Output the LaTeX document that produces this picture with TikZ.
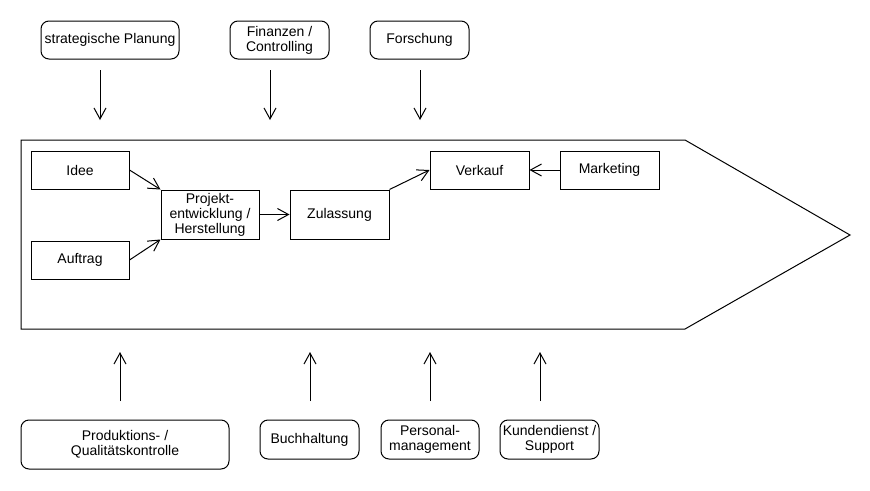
\documentclass[tikz,border=0pt]{standalone}
\usepackage{fontspec}
\setmainfont{Liberation Sans}
\usetikzlibrary{arrows.meta}
\begin{document}
\begin{tikzpicture}[x=1pt,y=-1pt,
  every node/.style={font=\fontsize{14}{15}\selectfont, align=center, inner sep=0pt},
  rbox/.style={draw, line width=1pt, rounded corners=8pt},
  sbox/.style={draw, line width=1pt},
  conn/.style={line width=1pt, -{Straight Barb[length=11pt,width=12pt,line width=1pt]}}
]
\useasboundingbox (0,0) rectangle (870,490);
% big pentagon
\draw[line width=1pt] (21,140) -- (685,140) -- (850,235) -- (685,329) -- (21,329) -- cycle;

% top boxes
\node[rbox, minimum width=138pt, minimum height=38pt] (sp) at (110,40) {strategische Planung};
\node[rbox, minimum width=99pt, minimum height=38pt] (fin) at (279.5,40) {Finanzen /\\Controlling};
\node[rbox, minimum width=99pt, minimum height=38pt] (for) at (419.5,40) {Forschung};

\coordinate (a1s) at (100,70);  \coordinate (a1e) at (100,120);
\coordinate (a2s) at (270,70);  \coordinate (a2e) at (270,120);
\coordinate (a3s) at (420,70);  \coordinate (a3e) at (420,120);
\draw[conn] (a1s) -- (a1e);
\draw[conn] (a2s) -- (a2e);
\draw[conn] (a3s) -- (a3e);

% inner boxes
\node[sbox, minimum width=98pt, minimum height=38pt] (idee) at (80,170) {Idee};
\node[sbox, minimum width=98pt, minimum height=38pt] (auf) at (80,260) {Auftrag};
\node[sbox, minimum width=98pt, minimum height=49pt] (proj) at (210,214.5) {Projekt-\\entwicklung /\\Herstellung};
\node[sbox, minimum width=99pt, minimum height=49pt] (zul) at (339.5,214.5) {Zulassung};
\node[sbox, minimum width=99pt, minimum height=38pt] (verk) at (479.5,170) {Verkauf};
\node[sbox, minimum width=99pt, minimum height=38pt] (mark) at (609.5,170) {Marketing};

\draw[conn] (idee.east) -- (proj.north west);
\draw[conn] (auf.east) -- (proj.south west);
\draw[conn] (proj.east) -- (zul.west);
\draw[conn] (zul.north east) -- (verk.west);
\draw[conn] (mark.west) -- (verk.east);

% bottom boxes
\node[rbox, minimum width=208pt, minimum height=49pt] (prod) at (125,444.5) {Produktions- /\\Qualitätskontrolle};
\node[rbox, minimum width=99pt, minimum height=39pt] (buch) at (309.5,439.5) {Buchhaltung};
\node[rbox, minimum width=98pt, minimum height=39pt] (pers) at (430,439.5) {Personal-\\management};
\node[rbox, minimum width=99pt, minimum height=39pt] (kund) at (549.5,439.5) {Kundendienst /\\Support};

\coordinate (b1s) at (120,401); \coordinate (b1e) at (120,352);
\coordinate (b2s) at (310,401); \coordinate (b2e) at (310,352);
\coordinate (b3s) at (430,401); \coordinate (b3e) at (430,352);
\coordinate (b4s) at (540,401); \coordinate (b4e) at (540,352);
\draw[conn] (b1s) -- (b1e);
\draw[conn] (b2s) -- (b2e);
\draw[conn] (b3s) -- (b3e);
\draw[conn] (b4s) -- (b4e);
\end{tikzpicture}
\end{document}
